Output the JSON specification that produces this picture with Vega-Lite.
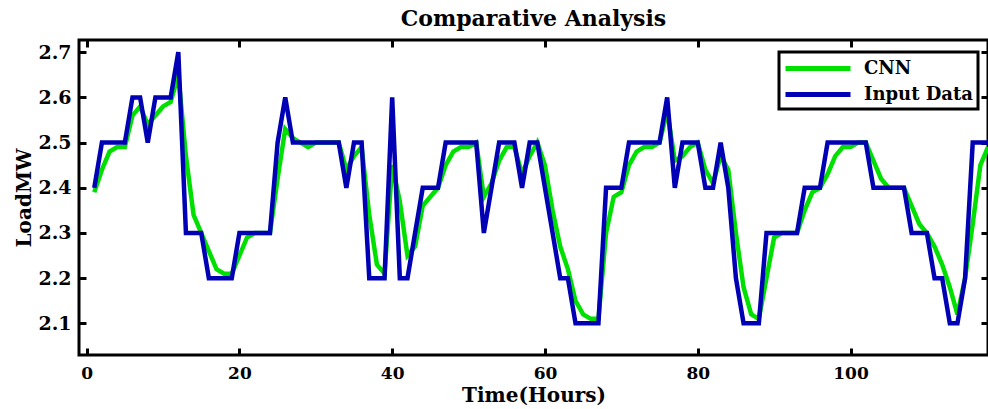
{
  "$schema": "https://vega.github.io/schema/vega-lite/v6.json",
  "autosize": "none",
  "width": 909,
  "height": 315,
  "padding": {"left": 79, "top": 40, "right": 0, "bottom": 54},
  "background": "white",
  "config": {
    "view": {"stroke": "black", "strokeWidth": 3},
    "font": "DejaVu Serif"
  },
  "title": {
    "text": "Comparative Analysis",
    "font": "DejaVu Serif",
    "fontSize": 22,
    "fontWeight": "bold",
    "color": "black",
    "offset": 8
  },
  "data": {
    "values": [
      {"h":1,"CNN":2.39,"Input Data":2.4},
      {"h":2,"CNN":2.44,"Input Data":2.5},
      {"h":3,"CNN":2.48,"Input Data":2.5},
      {"h":4,"CNN":2.49,"Input Data":2.5},
      {"h":5,"CNN":2.49,"Input Data":2.5},
      {"h":6,"CNN":2.56,"Input Data":2.6},
      {"h":7,"CNN":2.58,"Input Data":2.6},
      {"h":8,"CNN":2.54,"Input Data":2.5},
      {"h":9,"CNN":2.56,"Input Data":2.6},
      {"h":10,"CNN":2.58,"Input Data":2.6},
      {"h":11,"CNN":2.59,"Input Data":2.6},
      {"h":12,"CNN":2.65,"Input Data":2.7},
      {"h":13,"CNN":2.47,"Input Data":2.3},
      {"h":14,"CNN":2.34,"Input Data":2.3},
      {"h":15,"CNN":2.3,"Input Data":2.3},
      {"h":16,"CNN":2.26,"Input Data":2.2},
      {"h":17,"CNN":2.22,"Input Data":2.2},
      {"h":18,"CNN":2.21,"Input Data":2.2},
      {"h":19,"CNN":2.21,"Input Data":2.2},
      {"h":20,"CNN":2.25,"Input Data":2.3},
      {"h":21,"CNN":2.29,"Input Data":2.3},
      {"h":22,"CNN":2.3,"Input Data":2.3},
      {"h":23,"CNN":2.3,"Input Data":2.3},
      {"h":24,"CNN":2.3,"Input Data":2.3},
      {"h":25,"CNN":2.42,"Input Data":2.5},
      {"h":26,"CNN":2.53,"Input Data":2.6},
      {"h":27,"CNN":2.51,"Input Data":2.5},
      {"h":28,"CNN":2.5,"Input Data":2.5},
      {"h":29,"CNN":2.49,"Input Data":2.5},
      {"h":30,"CNN":2.5,"Input Data":2.5},
      {"h":31,"CNN":2.5,"Input Data":2.5},
      {"h":32,"CNN":2.5,"Input Data":2.5},
      {"h":33,"CNN":2.5,"Input Data":2.5},
      {"h":34,"CNN":2.44,"Input Data":2.4},
      {"h":35,"CNN":2.47,"Input Data":2.5},
      {"h":36,"CNN":2.49,"Input Data":2.5},
      {"h":37,"CNN":2.34,"Input Data":2.2},
      {"h":38,"CNN":2.23,"Input Data":2.2},
      {"h":39,"CNN":2.21,"Input Data":2.2},
      {"h":40,"CNN":2.45,"Input Data":2.6},
      {"h":41,"CNN":2.37,"Input Data":2.2},
      {"h":42,"CNN":2.25,"Input Data":2.2},
      {"h":43,"CNN":2.27,"Input Data":2.3},
      {"h":44,"CNN":2.36,"Input Data":2.4},
      {"h":45,"CNN":2.38,"Input Data":2.4},
      {"h":46,"CNN":2.4,"Input Data":2.4},
      {"h":47,"CNN":2.45,"Input Data":2.5},
      {"h":48,"CNN":2.48,"Input Data":2.5},
      {"h":49,"CNN":2.49,"Input Data":2.5},
      {"h":50,"CNN":2.49,"Input Data":2.5},
      {"h":51,"CNN":2.5,"Input Data":2.5},
      {"h":52,"CNN":2.38,"Input Data":2.3},
      {"h":53,"CNN":2.41,"Input Data":2.4},
      {"h":54,"CNN":2.46,"Input Data":2.5},
      {"h":55,"CNN":2.49,"Input Data":2.5},
      {"h":56,"CNN":2.49,"Input Data":2.5},
      {"h":57,"CNN":2.43,"Input Data":2.4},
      {"h":58,"CNN":2.47,"Input Data":2.5},
      {"h":59,"CNN":2.5,"Input Data":2.5},
      {"h":60,"CNN":2.45,"Input Data":2.4},
      {"h":61,"CNN":2.35,"Input Data":2.3},
      {"h":62,"CNN":2.27,"Input Data":2.2},
      {"h":63,"CNN":2.22,"Input Data":2.2},
      {"h":64,"CNN":2.15,"Input Data":2.1},
      {"h":65,"CNN":2.12,"Input Data":2.1},
      {"h":66,"CNN":2.11,"Input Data":2.1},
      {"h":67,"CNN":2.11,"Input Data":2.1},
      {"h":68,"CNN":2.3,"Input Data":2.4},
      {"h":69,"CNN":2.38,"Input Data":2.4},
      {"h":70,"CNN":2.39,"Input Data":2.4},
      {"h":71,"CNN":2.45,"Input Data":2.5},
      {"h":72,"CNN":2.48,"Input Data":2.5},
      {"h":73,"CNN":2.49,"Input Data":2.5},
      {"h":74,"CNN":2.49,"Input Data":2.5},
      {"h":75,"CNN":2.5,"Input Data":2.5},
      {"h":76,"CNN":2.57,"Input Data":2.6},
      {"h":77,"CNN":2.46,"Input Data":2.4},
      {"h":78,"CNN":2.47,"Input Data":2.5},
      {"h":79,"CNN":2.49,"Input Data":2.5},
      {"h":80,"CNN":2.5,"Input Data":2.5},
      {"h":81,"CNN":2.44,"Input Data":2.4},
      {"h":82,"CNN":2.41,"Input Data":2.4},
      {"h":83,"CNN":2.47,"Input Data":2.5},
      {"h":84,"CNN":2.44,"Input Data":2.4},
      {"h":85,"CNN":2.3,"Input Data":2.2},
      {"h":86,"CNN":2.18,"Input Data":2.1},
      {"h":87,"CNN":2.12,"Input Data":2.1},
      {"h":88,"CNN":2.11,"Input Data":2.1},
      {"h":89,"CNN":2.2,"Input Data":2.3},
      {"h":90,"CNN":2.29,"Input Data":2.3},
      {"h":91,"CNN":2.3,"Input Data":2.3},
      {"h":92,"CNN":2.3,"Input Data":2.3},
      {"h":93,"CNN":2.3,"Input Data":2.3},
      {"h":94,"CNN":2.35,"Input Data":2.4},
      {"h":95,"CNN":2.39,"Input Data":2.4},
      {"h":96,"CNN":2.4,"Input Data":2.4},
      {"h":97,"CNN":2.43,"Input Data":2.5},
      {"h":98,"CNN":2.47,"Input Data":2.5},
      {"h":99,"CNN":2.49,"Input Data":2.5},
      {"h":100,"CNN":2.49,"Input Data":2.5},
      {"h":101,"CNN":2.5,"Input Data":2.5},
      {"h":102,"CNN":2.5,"Input Data":2.5},
      {"h":103,"CNN":2.46,"Input Data":2.4},
      {"h":104,"CNN":2.42,"Input Data":2.4},
      {"h":105,"CNN":2.4,"Input Data":2.4},
      {"h":106,"CNN":2.4,"Input Data":2.4},
      {"h":107,"CNN":2.4,"Input Data":2.4},
      {"h":108,"CNN":2.36,"Input Data":2.3},
      {"h":109,"CNN":2.32,"Input Data":2.3},
      {"h":110,"CNN":2.3,"Input Data":2.3},
      {"h":111,"CNN":2.27,"Input Data":2.2},
      {"h":112,"CNN":2.23,"Input Data":2.2},
      {"h":113,"CNN":2.18,"Input Data":2.1},
      {"h":114,"CNN":2.12,"Input Data":2.1},
      {"h":115,"CNN":2.2,"Input Data":2.2},
      {"h":116,"CNN":2.32,"Input Data":2.5},
      {"h":117,"CNN":2.45,"Input Data":2.5},
      {"h":118,"CNN":2.49,"Input Data":2.5}
    ]
  },
  "transform": [{"fold": ["CNN", "Input Data"], "as": ["series", "value"]}],
  "resolve": {"axis": {"x": "independent", "y": "independent"}},
  "layer": [
    {
      "mark": {"type": "line", "strokeWidth": 4.5, "clip": true},
      "encoding": {
        "x": {
          "field": "h", "type": "quantitative",
          "scale": {"domain": [-1, 118], "nice": false, "zero": false},
          "axis": {
            "values": [0, 20, 40, 60, 80, 100],
            "title": "Time(Hours)",
            "titleFont": "DejaVu Serif", "titleFontSize": 20, "titleFontWeight": "bold", "titleColor": "black",
            "titlePadding": 4,
            "labelFont": "DejaVu Serif", "labelFontSize": 17, "labelFontWeight": "bold", "labelColor": "black",
            "labelPadding": 17,
            "domain": false, "grid": false,
            "ticks": true, "tickSize": -7, "tickWidth": 3, "tickColor": "black"
          }
        },
        "y": {
          "field": "value", "type": "quantitative",
          "scale": {"domain": [2.03, 2.727], "nice": false, "zero": false},
          "axis": {
            "values": [2.1, 2.2, 2.3, 2.4, 2.5, 2.6, 2.7],
            "format": ".1f",
            "title": "LoadMW",
            "titleFont": "DejaVu Serif", "titleFontSize": 20, "titleFontWeight": "bold", "titleColor": "black",
            "titlePadding": 3,
            "labelFont": "DejaVu Serif", "labelFontSize": 19, "labelFontWeight": "bold", "labelColor": "black",
            "labelPadding": 15,
            "domain": false, "grid": false,
            "ticks": true, "tickSize": -7, "tickWidth": 3, "tickColor": "black"
          }
        },
        "color": {
          "field": "series", "type": "nominal",
          "scale": {"domain": ["CNN", "Input Data"], "range": ["#00e000", "#0000b4"]},
          "legend": {
            "title": null,
            "orient": "none",
            "legendX": 700,
            "legendY": 12,
            "direction": "vertical",
            "strokeColor": "black",
            "fillColor": "white",
            "padding": 4,
            "symbolType": "M-1,0H5.5",
            "symbolSize": 400,
            "symbolStrokeWidth": 5,
            "labelFont": "DejaVu Serif",
            "labelFontSize": 18,
            "labelFontWeight": "bold",
            "labelColor": "black",
            "labelOffset": 56,
            "rowPadding": 3,
            "encode": {"legend": {"update": {"strokeWidth": {"value": 3}}}}
          }
        }
      }
    },
    {
      "mark": {"type": "line", "opacity": 0},
      "encoding": {
        "x": {
          "field": "h", "type": "quantitative",
          "axis": {
            "orient": "top", "values": [0, 20, 40, 60, 80, 100], "labels": false, "title": null,
            "domain": false, "grid": false, "tickSize": -7, "tickWidth": 3, "tickColor": "black"
          }
        },
        "y": {
          "field": "value", "type": "quantitative",
          "axis": {
            "orient": "right", "values": [2.1, 2.2, 2.3, 2.4, 2.5, 2.6, 2.7], "labels": false, "title": null,
            "domain": false, "grid": false, "tickSize": -7, "tickWidth": 3, "tickColor": "black"
          }
        }
      }
    }
  ]
}
